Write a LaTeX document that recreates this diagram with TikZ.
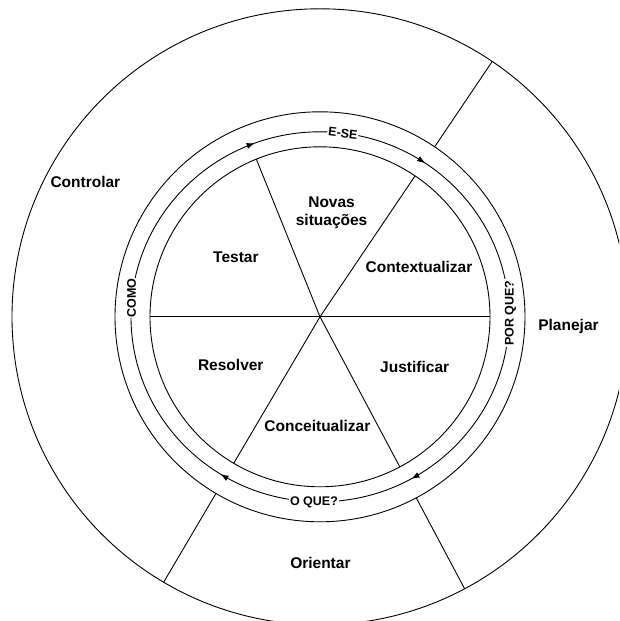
\documentclass[tikz,border=0pt]{standalone}
\usepackage{fontspec}
\setmainfont{Liberation Sans}
\usetikzlibrary{arrows.meta,decorations.markings}
\begin{document}
\begin{tikzpicture}[x=1pt,y=1pt, line width=0.9pt,
  lbl/.style={font=\fontsize{15.5}{18}\selectfont\bfseries, align=center, inner sep=0pt},
  cyc/.style={font=\fontsize{12.5}{14}\selectfont\bfseries, fill=white, inner sep=1pt}]
\useasboundingbox (-320,-304.2) rectangle (299,316.8);
\fill[white] (-320,-304.2) rectangle (299,316.8);
\clip (-320,-304.2) rectangle (299,316.8);
\coordinate (c) at (0,0);
% rings
\draw (c) circle[radius=308];
\draw (c) circle[radius=205];
\draw (c) circle[radius=170];
% cycle path with arrows (clockwise)
\draw[postaction={decorate}, decoration={markings,
  mark=at position 0.1553 with {\arrowreversed{Latex[length=8pt,width=6pt]}},
  mark=at position 0.3067 with {\arrowreversed{Latex[length=8pt,width=6pt]}},
  mark=at position 0.6611 with {\arrowreversed{Latex[length=8pt,width=6pt]}},
  mark=at position 0.8311 with {\arrowreversed{Latex[length=8pt,width=6pt]}}}]
  (c) ellipse[x radius=189, y radius=185];
% wedge lines
\foreach \a in {0,56,112,180,239.5,298} \draw (c) -- (\a:170);
% outer sector lines
\foreach \a in {56,239.5,298} \draw (\a:205) -- (\a:308);
% wedge labels
\node[lbl] (novas) at (11.6,104) {Novas\\situações};
\node[lbl] (testar) at (-84.1,59.8) {Testar};
\node[lbl] (contex) at (99,49.9) {Contextualizar};
\node[lbl] (resolver) at (-89.2,-48) {Resolver};
\node[lbl] (justif) at (94.7,-50.4) {Justificar};
\node[lbl] (conceit) at (-2.6,-108.8) {Conceitualizar};
% outer labels
\node[lbl] (controlar) at (-234.6,134.8) {Controlar};
\node[lbl] (planejar) at (248.5,-10.1) {Planejar};
\node[lbl] (orientar) at (0.4,-245.8) {Orientar};
% cycle labels
\node[cyc, rotate=90] (como) at (-188.5,18.8) {COMO};
\node[cyc, rotate=90] (porque) at (190.5,3.8) {POR QUE?};
\node[cyc] (oque) at (-6,-185.2) {O QUE?};
\node[cyc, rotate=-7] (ese) at (23,183.8) {E-SE};
\end{tikzpicture}
\end{document}
